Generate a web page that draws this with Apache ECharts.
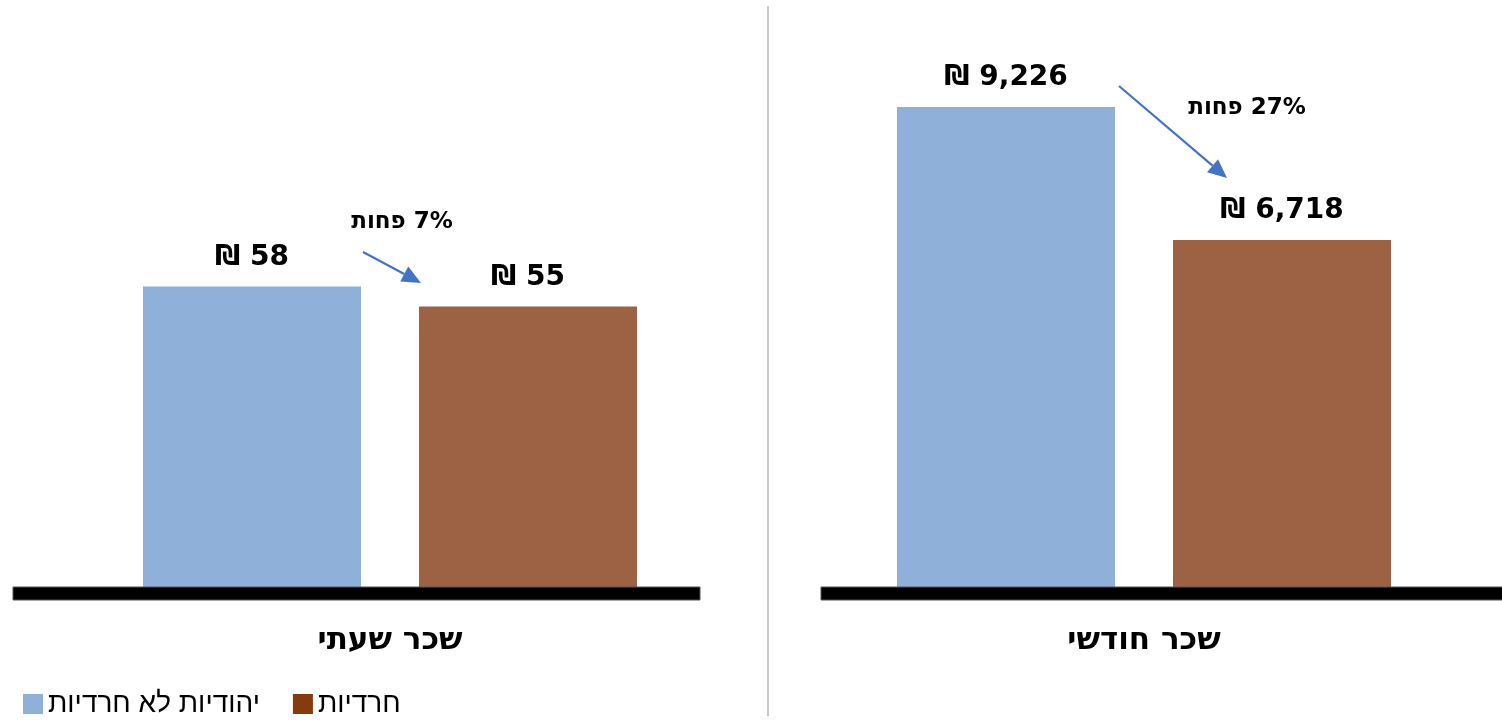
<!DOCTYPE html>
<html><head><meta charset="utf-8">
<script src="https://cdn.jsdelivr.net/npm/echarts@6/dist/echarts.min.js"></script>
<style>html,body{margin:0;padding:0;background:#fff}#c{width:1502px;height:720px}</style>
</head><body><div id="c"></div>
<script>
// ---- data ----
const categories = ['שכר שעתי', 'שכר חודשי'];
const seriesNames = ['יהודיות לא חרדיות', 'חרדיות'];
const nonHarediValues = [58.4, 9226];
const harediValues = [54.6, 6718];
const axisMax = [100, 10000];

// ---- styles ----
const BLUE = '#8FB0D9';
const BROWN = '#9C6243';
const BROWN_LEGEND = '#843C0C';
const ARROW = '#4472C4';
const BOLD_FONT = 'DejaVu Sans';
const HEB_FONT = 'Liberation Sans';

const chart = echarts.init(document.getElementById('c'), null, {renderer: 'canvas'});

const grids = [
  {left: 80, width: 620, top: 66, bottom: 124},
  {left: 821, width: 646, top: 66, bottom: 124}
];

const xAxes = categories.map((c, i) => ({
  type: 'category', gridIndex: i, data: [c],
  axisLine: {show: false}, axisTick: {show: false},
  axisLabel: {fontSize: 31, fontWeight: 'bold', fontFamily: BOLD_FONT, color: '#000', margin: 29}
}));
const yAxes = categories.map((c, i) => ({
  type: 'value', gridIndex: i, min: 0, max: axisMax[i], show: false, splitLine: {show: false}
}));

const labelFmt = p => '₪ ' + Math.round(p.value).toLocaleString('en-US');
const series = [];
categories.forEach((c, i) => {
  [[nonHarediValues, BLUE, 0], [harediValues, BROWN, 1]].forEach(([vals, col, k]) => {
    series.push({
      type: 'bar', name: seriesNames[k], xAxisIndex: i, yAxisIndex: i,
      data: [vals[i]], barWidth: 218, barGap: '26.6%',
      itemStyle: {color: col},
      label: {show: true, position: 'top', distance: 15, formatter: labelFmt,
        fontSize: 28, fontWeight: 'bold', fontFamily: BOLD_FONT, color: '#000'},
      emphasis: {disabled: true}
    });
  });
});

function pct(i) { return Math.round((1 - harediValues[i] / nonHarediValues[i]) * 100); }

function arrow(x1, y1, x2, y2) {
  const a = Math.atan2(y2 - y1, x2 - x1), L = 19, W = 8.5;
  const bx = x2 - L * Math.cos(a), by = y2 - L * Math.sin(a);
  const nx = -Math.sin(a), ny = Math.cos(a);
  return [
    {type: 'line', z: 10, shape: {x1, y1, x2: bx, y2: by}, style: {stroke: ARROW, lineWidth: 2.2}},
    {type: 'polygon', z: 10, shape: {points: [[x2, y2], [bx + nx * W, by + ny * W], [bx - nx * W, by - ny * W]]},
      style: {fill: ARROW}}
  ];
}
function pctText(i, x, y) {
  return {type: 'text', z: 10, x, y, style: {
    text: '{h|פחות} {n|' + pct(i) + '%}', align: 'center', verticalAlign: 'middle',
    font: 'bold 23px "' + BOLD_FONT + '"', fill: '#000',
    rich: {h: {fontSize: 23, fontWeight: 'bold', fontFamily: BOLD_FONT, fill: '#000'},
           n: {fontSize: 23, fontWeight: 'bold', fontFamily: BOLD_FONT, fill: '#000'}}
  }};
}

const graphic = [
  {type: 'rect', z: 10, shape: {x: 13, y: 587, width: 687, height: 13}, style: {fill: '#000', stroke: '#555', lineWidth: 1}},
  {type: 'rect', z: 10, shape: {x: 821, y: 587, width: 690, height: 13}, style: {fill: '#000', stroke: '#555', lineWidth: 1}},
  {type: 'line', z: 10, shape: {x1: 768, y1: 6, x2: 768, y2: 716}, style: {stroke: '#C8C8C8', lineWidth: 2}},
  ...arrow(363, 252, 421, 283),
  ...arrow(1119, 86, 1227, 178),
  pctText(0, 402, 222),
  pctText(1, 1247, 108)
];

chart.setOption({
  animation: false,
  grid: grids,
  xAxis: xAxes,
  yAxis: yAxes,
  series,
  legend: {
    left: 18, top: 685, itemWidth: 20, itemHeight: 20, itemGap: 33,
    icon: 'rect',
    data: [
      {name: seriesNames[0], itemStyle: {color: BLUE}},
      {name: seriesNames[1], itemStyle: {color: BROWN_LEGEND}}
    ],
    textStyle: {fontSize: 28, fontFamily: HEB_FONT, color: '#000'},
    selectedMode: false
  },
  graphic
});
</script></body></html>
